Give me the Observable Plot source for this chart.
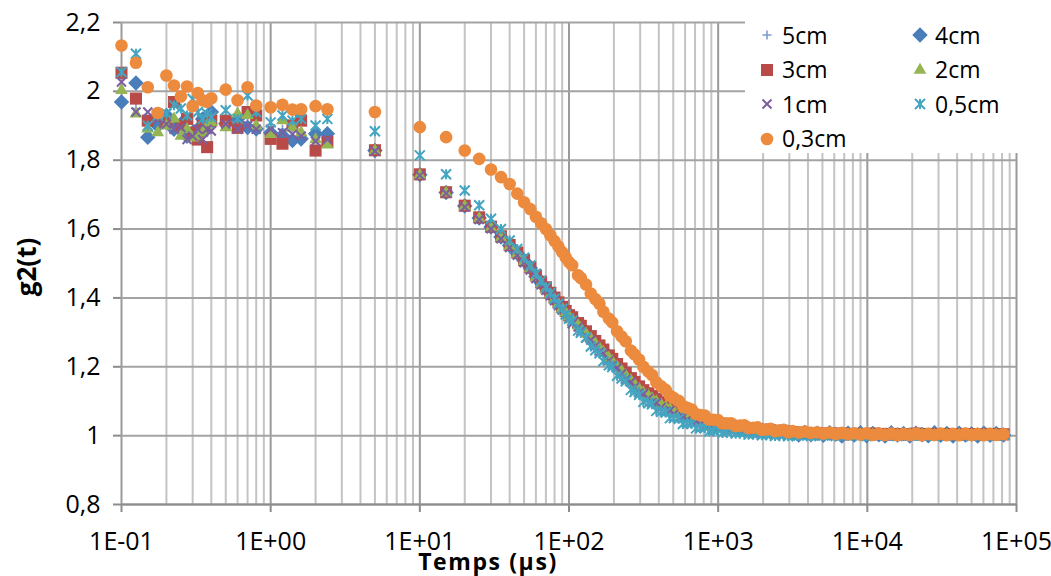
<!DOCTYPE html>
<html>
<head>
<meta charset="utf-8">
<script src="https://cdn.jsdelivr.net/npm/d3@7"></script>
<script src="https://cdn.jsdelivr.net/npm/@observablehq/plot@0.6"></script>
<style>
  html, body { margin: 0; padding: 0; background: #fff; }
  #wrap { position: relative; width: 1051px; height: 576px; overflow: hidden; font-family: "Open Sans", sans-serif; }
  #chart svg { display: block; }
  #chart g[aria-label="x-axis tick"], #chart g[aria-label="y-axis tick"] { stroke: #8c8c8c; stroke-width: 2; }
  #legend { position: absolute; left: 745px; top: 12px; width: 290px; height: 141px; background: #fff;
    box-sizing: border-box; padding: 6px 0 0 13px; display: grid; grid-template-columns: 153px 124px; grid-auto-rows: 34.5px; }
  .item { display: flex; align-items: center; font-size: 23px; color: #000; line-height: 1; }
  .item svg { width: 18px; height: 18px; margin-right: 6px; overflow: visible; }
  #xtitle { position: absolute; left: 488px; top: 550px; transform: translateX(-50%); font-weight: bold; font-size: 23px; letter-spacing: 1.6px; white-space: nowrap; line-height: 1; }
  #ytitle { position: absolute; left: 26px; top: 267px; transform: translate(-50%, -50%) rotate(-90deg); font-weight: bold; font-size: 26px; white-space: nowrap; line-height: 1; }
</style>
</head>
<body>
<div id="wrap">
  <div id="chart"></div>
  <div id="legend"></div>
  <div id="xtitle">Temps (µs)</div>
  <div id="ytitle">g2(t)</div>
</div>
<script>
// ---------- axis ticks ----------
const xTicks = [0.1, 1, 10, 100, 1000, 10000, 100000];
const xTickLabels = ["1E-01", "1E+00", "1E+01", "1E+02", "1E+03", "1E+04", "1E+05"];
const yTicks = [0.8, 1, 1.2, 1.4, 1.6, 1.8, 2, 2.2];
const yTickLabels = ["0,8", "1", "1,2", "1,4", "1,6", "1,8", "2", "2,2"];

// ---------- series ----------
const seriesNames = ["5cm", "4cm", "3cm", "2cm", "1cm", "0,5cm", "0,3cm"];

// lag times (µs)
const times = [0.1,0.125,0.15,0.175,0.2,0.225,0.25,0.275,0.3,0.325,0.35,0.375,0.4,0.5,0.6,0.7,0.8,1,1.2,1.4,1.6,2,2.4,
5,10,15,20,25,30,35,40,45,50,55,60,65,70,75,80,85,90,95,100,
105,115,120,130,140,150,160,170,185,195,
210,225,240,260,275,295,315,340,360,385,
415,445,475,505,545,580,620,665,710,760,
815,870,930,1000,1070,1140,1220,1310,1400,1495,
1600,1715,1835,1965,2100,2245,2405,2575,2755,2945,
3150,3465,3810,4190,4610,5070,5580,6135,6750,7425,
8170,8985,9885,10870,11960,13155,14470,15920,17510,19260,
21185,23305,25635,28200,31020,34120,37530,41285,45415,49955,
54950,60445,66490,73140,82000];

const g5cm = [2.040,1.950,1.862,1.900,1.920,1.900,1.890,1.880,1.890,1.870,1.890,1.880,1.900,1.910,1.900,1.910,1.890,1.885,1.890,1.870,1.880,1.870,1.865,
1.828,1.758,1.706,1.667,1.632,1.605,1.576,1.551,1.529,1.507,1.486,1.461,1.443,1.427,1.411,1.397,1.383,1.370,1.358,1.346,
1.340,1.323,1.315,1.299,1.285,1.271,1.258,1.246,1.229,1.219,
1.204,1.191,1.178,1.163,1.152,1.139,1.128,1.119,1.111,1.102,
1.093,1.086,1.080,1.074,1.067,1.062,1.057,1.052,1.047,1.043,
1.039,1.036,1.033,1.031,1.029,1.027,1.025,1.023,1.021,1.019,
1.018,1.016,1.015,1.014,1.013,1.012,1.011,1.010,1.010,1.009,
1.008,1.007,1.007,1.006,1.006,1.005,1.005,1.004,1.005,1.004,
1.004,1.003,1.005,1.004,1.003,1.004,1.005,1.003,1.004,1.003,
1.005,1.004,1.003,1.004,1.003,1.005,1.003,1.004,1.003,1.004,
1.005,1.003,1.004,1.003,1.004];

const g4cm = [1.969,2.024,1.867,1.900,1.930,1.890,1.905,1.870,1.880,1.890,1.920,1.900,1.940,1.906,1.920,1.895,1.891,1.880,1.872,1.857,1.862,1.877,1.877,
1.828,1.758,1.706,1.667,1.632,1.606,1.577,1.552,1.530,1.508,1.487,1.462,1.444,1.428,1.412,1.398,1.384,1.371,1.359,1.347,
1.341,1.324,1.316,1.300,1.286,1.272,1.259,1.247,1.230,1.220,
1.205,1.192,1.179,1.164,1.153,1.140,1.129,1.120,1.112,1.103,
1.094,1.087,1.081,1.075,1.068,1.063,1.058,1.053,1.048,1.044,
1.040,1.037,1.034,1.032,1.030,1.028,1.026,1.024,1.022,1.020,
1.019,1.017,1.016,1.015,1.014,1.013,1.012,1.011,1.011,1.010,
1.008,1.002,1.009,1.003,1.007,1.001,1.008,1.004,0.999,1.007,
1.002,1.008,1.000,1.006,1.003,0.999,1.008,1.002,1.006,0.999,
1.007,1.003,1.000,1.008,1.001,1.006,0.999,1.007,1.002,1.005,
0.999,1.007,1.001,1.006,1.002];

const g3cm = [2.054,1.979,1.915,1.930,1.910,1.969,1.900,1.920,1.880,1.860,1.900,1.838,1.915,1.915,1.894,1.940,1.930,1.862,1.848,1.901,1.915,1.828,1.853,
1.829,1.759,1.707,1.668,1.634,1.607,1.579,1.554,1.532,1.510,1.489,1.465,1.447,1.431,1.415,1.401,1.387,1.374,1.362,1.350,
1.344,1.327,1.319,1.303,1.289,1.275,1.262,1.250,1.233,1.223,
1.208,1.195,1.182,1.167,1.156,1.143,1.132,1.123,1.115,1.106,
1.097,1.090,1.084,1.078,1.071,1.066,1.061,1.056,1.051,1.047,
1.043,1.040,1.037,1.035,1.033,1.031,1.029,1.027,1.025,1.023,
1.021,1.019,1.018,1.017,1.016,1.015,1.014,1.013,1.012,1.011,
1.010,1.009,1.008,1.007,1.007,1.006,1.006,1.005,1.006,1.004,
1.005,1.005,1.004,1.006,1.004,1.005,1.003,1.005,1.004,1.004,
1.006,1.003,1.005,1.004,1.003,1.005,1.004,1.003,1.005,1.004,
1.003,1.004,1.005,1.003,1.004];

const g2cm = [2.003,1.935,1.891,1.880,1.900,1.920,1.870,1.890,1.865,1.870,1.880,1.900,1.910,1.895,1.935,1.930,1.900,1.875,1.915,1.895,1.880,1.860,1.845,
1.828,1.757,1.705,1.666,1.631,1.604,1.575,1.550,1.528,1.506,1.485,1.460,1.442,1.426,1.410,1.396,1.382,1.369,1.357,1.345,
1.337,1.320,1.312,1.296,1.282,1.268,1.255,1.243,1.226,1.216,
1.201,1.188,1.175,1.160,1.149,1.136,1.125,1.116,1.108,1.099,
1.090,1.083,1.077,1.071,1.064,1.059,1.054,1.049,1.044,1.040,
1.036,1.033,1.030,1.028,1.026,1.024,1.022,1.020,1.018,1.016,
1.015,1.013,1.012,1.011,1.010,1.009,1.008,1.007,1.007,1.006,
1.006,1.005,1.005,1.004,1.004,1.004,1.003,1.004,1.003,1.003,
1.004,1.003,1.002,1.003,1.004,1.003,1.002,1.003,1.003,1.004,
1.002,1.003,1.003,1.002,1.004,1.003,1.002,1.003,1.003,1.002,
1.004,1.003,1.002,1.003,1.003];

const g1cm = [2.027,1.940,1.940,1.920,1.905,1.890,1.895,1.860,1.870,1.890,1.860,1.890,1.885,1.905,1.890,1.900,1.890,1.890,1.880,1.875,1.870,1.855,1.860,
1.827,1.756,1.704,1.664,1.628,1.601,1.572,1.546,1.524,1.502,1.481,1.456,1.438,1.422,1.406,1.392,1.378,1.365,1.353,1.341,
1.325,1.316,1.304,1.284,1.278,1.260,1.243,1.239,1.218,1.204,
1.197,1.180,1.163,1.156,1.141,1.124,1.121,1.108,1.096,1.095,
1.082,1.071,1.073,1.063,1.052,1.055,1.046,1.038,1.040,1.033,
1.026,1.030,1.023,1.019,1.023,1.018,1.014,1.018,1.013,1.009,
1.013,1.009,1.006,1.010,1.007,1.004,1.007,1.004,1.003,1.005,
1.004,1.003,1.003,1.002,1.003,1.002,1.002,1.003,1.001,1.002,
1.003,1.002,1.001,1.002,1.003,1.002,1.001,1.002,1.002,1.003,
1.001,1.002,1.002,1.001,1.003,1.002,1.001,1.002,1.002,1.001,
1.003,1.002,1.001,1.002,1.002];

const g05cm = [2.056,2.109,1.900,1.930,1.935,1.960,1.950,1.930,1.978,1.940,1.920,1.935,1.925,1.945,1.920,1.988,1.940,1.910,1.930,1.915,1.920,1.901,1.920,
1.884,1.814,1.759,1.712,1.669,1.630,1.600,1.567,1.542,1.517,1.494,1.470,1.450,1.431,1.414,1.398,1.383,1.368,1.352,1.340,
1.333,1.305,1.299,1.285,1.259,1.248,1.239,1.216,1.204,1.199,
1.174,1.166,1.158,1.133,1.127,1.119,1.098,1.094,1.091,1.072,
1.069,1.067,1.051,1.051,1.049,1.034,1.035,1.035,1.021,1.022,
1.023,1.012,1.014,1.017,1.008,1.011,1.013,1.006,1.008,1.010,
1.003,1.005,1.007,1.001,1.003,1.005,0.999,1.002,1.004,0.998,
1.001,1.000,1.002,0.999,1.001,1.000,1.002,0.999,1.001,1.000,
1.002,1.000,0.999,1.001,1.002,1.000,1.001,0.999,1.002,1.000,
1.001,1.000,1.002,0.999,1.001,1.000,1.002,1.000,1.001,0.999,
1.002,1.000,1.001,1.000,1.001];

const g03cm = [2.133,2.083,2.012,1.937,2.046,2.017,1.985,2.014,1.957,1.995,1.974,1.970,1.980,2.005,1.974,2.012,1.959,1.954,1.961,1.947,1.948,1.957,1.948,
1.940,1.896,1.867,1.828,1.804,1.773,1.751,1.731,1.703,1.678,1.658,1.636,1.617,1.600,1.582,1.565,1.549,1.533,1.518,1.504,
1.495,1.466,1.458,1.439,1.413,1.397,1.383,1.360,1.340,1.329,
1.303,1.288,1.274,1.247,1.236,1.221,1.200,1.186,1.176,1.155,
1.143,1.133,1.116,1.109,1.101,1.086,1.081,1.076,1.063,1.060,
1.058,1.047,1.046,1.045,1.036,1.036,1.036,1.028,1.029,1.030,
1.022,1.023,1.024,1.017,1.018,1.020,1.013,1.015,1.017,1.010,
1.013,1.009,1.012,1.008,1.010,1.006,1.009,1.005,1.008,1.004,
1.007,1.003,1.007,1.002,1.006,1.002,1.006,1.001,1.005,1.002,
1.006,1.001,1.005,1.002,1.006,1.001,1.005,1.001,1.006,1.002,
1.005,1.001,1.005,1.002,1.004];

const seriesValues = [g5cm, g4cm, g3cm, g2cm, g1cm, g05cm, g03cm];

// ---------- marker styles ----------
const symPlus = { draw(c, size) { const h = Math.sqrt(size / Math.PI); c.moveTo(-h, 0); c.lineTo(h, 0); c.moveTo(0, -h); c.lineTo(0, h); } };
const symTimes = { draw(c, size) { const h = Math.sqrt(size / Math.PI); c.moveTo(-h, -h); c.lineTo(h, h); c.moveTo(-h, h); c.lineTo(h, -h); } };
const symStar = { draw(c, size) { const h = Math.sqrt(size / Math.PI); c.moveTo(-h, -h); c.lineTo(h, h); c.moveTo(-h, h); c.lineTo(h, -h); c.moveTo(0, -h); c.lineTo(0, h); } };

const styles = [
  { symbol: symPlus, d3sym: symPlus, r: 4.5, color: "#7f9bd0", filled: false, sw: 1.6 },
  { symbol: "diamond2", d3sym: d3.symbolDiamond2, r: 7.0, color: "#4a7ebb", filled: true },
  { symbol: "square", d3sym: d3.symbolSquare, r: 6.8, color: "#b84a47", filled: true },
  { symbol: "triangle", d3sym: d3.symbolTriangle, r: 4.7, color: "#94b552", filled: true },
  { symbol: symTimes, d3sym: symTimes, r: 4.5, color: "#7c5f9f", filled: false, sw: 2 },
  { symbol: symStar, d3sym: symStar, r: 5, color: "#45a5c0", filled: false, sw: 2 },
  { symbol: "circle", d3sym: d3.symbolCircle, r: 6.3, color: "#ec8a3e", filled: true }
];

// ---------- gridline positions ----------
const xMinor = xTicks.slice(0, -1).flatMap(d => [2,3,4,5,6,7,8,9].map(k => k * d));

const dotMarks = seriesValues.map((vals, s) => {
  const st = styles[s];
  const rows = times.map((t, i) => ({ t, g: vals[i] })).filter(d => d.g != null);
  return Plot.dot(rows, {
    x: "t", y: "g", symbol: st.symbol, r: st.r,
    fill: st.filled ? st.color : "none",
    stroke: st.filled ? "none" : st.color,
    strokeWidth: st.sw || 0
  });
});

const chart = Plot.plot({
  width: 1051, height: 576,
  marginLeft: 121, marginRight: 35, marginTop: 22, marginBottom: 72,
  style: { fontFamily: "'Open Sans', sans-serif", fontSize: "25px", color: "#000", background: "transparent", overflow: "visible" },
  x: { type: "log", domain: [0.1, 100000], ticks: xTicks, tickFormat: d => xTickLabels[xTicks.indexOf(d)], tickSize: 8, tickPadding: 20, label: null },
  y: { domain: [0.8, 2.2], ticks: yTicks, tickFormat: d => yTickLabels[yTicks.findIndex(v => Math.abs(v - d) < 1e-9)], tickSize: 8, tickPadding: 13, label: null },
  marks: [
    Plot.ruleX(xMinor, { stroke: "#c4c4c4", strokeWidth: 2 }),
    Plot.ruleX(xTicks, { stroke: "#9a9a9a", strokeWidth: 2 }),
    Plot.ruleY(yTicks, { stroke: "#a3a3a3", strokeWidth: 2 }),
    Plot.ruleY([0.8], { stroke: "#8c8c8c", strokeWidth: 2 }),
    ...dotMarks
  ]
});
document.getElementById("chart").appendChild(chart);

// ---------- legend ----------
const legend = document.getElementById("legend");
seriesNames.forEach((name, s) => {
  const st = styles[s];
  const item = document.createElement("div");
  item.className = "item";
  const path = d3.symbol(st.d3sym, Math.PI * st.r * st.r)();
  const paint = st.filled ? `fill="${st.color}" stroke="none"` : `fill="none" stroke="${st.color}" stroke-width="${st.sw}"`;
  item.innerHTML = `<svg viewBox="-9 -9 18 18"><path d="${path}" ${paint}></path></svg><span>${name}</span>`;
  legend.appendChild(item);
});
</script>
</body>
</html>
